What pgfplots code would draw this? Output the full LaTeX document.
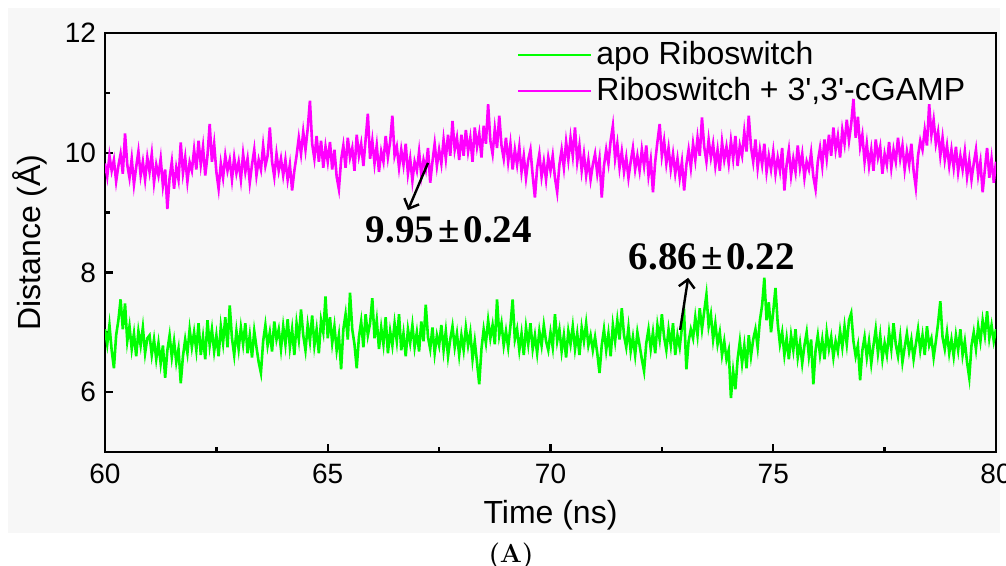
\documentclass[border=0pt]{standalone}
\usepackage{fontspec}
\usepackage{pgfplots}
\usepackage{pgfplotstable}
\pgfplotsset{compat=1.18}
\usetikzlibrary{arrows.meta}
\newfontfamily\arial{Liberation Sans}
\newfontfamily\timesfont{Liberation Serif}
\definecolor{apo}{RGB}{0,255,0}
\definecolor{holo}{RGB}{255,0,255}

% t (ns), apo Riboswitch, Riboswitch + 3',3'-cGAMP
\pgfplotstableread{
t apo holo
60.00 7.05 9.82
60.05 6.80 9.60
60.10 7.12 9.95
60.15 6.70 9.70
60.20 6.40 9.88
60.25 6.95 9.52
60.30 7.20 9.78
60.35 7.55 9.98
60.40 7.05 9.65
60.45 7.48 10.32
60.50 6.85 9.80
60.55 7.10 9.58
60.60 6.72 9.90
60.65 6.98 9.47
60.70 6.60 9.76
60.75 7.02 10.02
60.80 6.78 9.62
60.85 7.08 9.85
60.90 6.65 9.55
60.95 6.90 9.92
61.00 6.95 9.68
61.05 6.62 9.98
61.10 6.88 9.50
61.15 6.55 9.80
61.20 6.82 9.62
61.25 6.48 9.90
61.30 6.78 9.45
61.35 6.24 9.72
61.40 6.70 9.06
61.45 6.95 9.58
61.50 6.58 9.85
61.55 6.85 9.40
61.60 6.50 9.75
61.65 6.72 9.55
61.70 6.15 10.17
61.75 6.60 9.66
61.80 6.88 9.92
61.85 6.65 9.52
61.90 7.05 9.84
61.95 6.75 9.70
62.00 7.00 10.05
62.05 6.70 9.72
62.10 7.15 10.20
62.15 6.62 9.80
62.20 6.92 10.10
62.25 6.55 9.62
62.30 7.20 9.95
62.35 6.78 10.48
62.40 7.05 9.85
62.45 6.68 10.15
62.50 6.95 9.68
62.55 6.60 9.40
62.60 7.10 9.82
62.65 6.82 9.58
62.70 7.25 9.95
62.75 6.75 9.70
62.80 7.45 9.88
62.85 6.90 9.55
62.90 6.62 9.92
62.95 7.02 9.66
63.00 6.72 9.85
63.05 7.08 9.55
63.10 6.80 9.98
63.15 7.15 9.68
63.20 6.65 9.90
63.25 6.95 9.50
63.30 6.58 9.80
63.35 7.02 10.05
63.40 6.75 9.62
63.45 6.50 9.88
63.50 6.32 9.72
63.55 6.85 10.12
63.60 7.12 9.78
63.65 6.78 9.95
63.70 7.00 10.42
63.75 6.68 9.85
63.80 7.18 9.60
63.85 6.88 9.98
63.90 7.05 9.70
63.95 6.72 9.90
64.00 7.10 9.62
64.05 6.80 9.88
64.10 7.22 9.55
64.15 6.75 9.80
64.20 7.05 9.37
64.25 6.62 9.70
64.30 7.15 9.95
64.35 6.88 10.25
64.40 7.38 9.98
64.45 6.95 10.35
64.50 6.70 10.05
64.55 7.12 10.40
64.60 6.85 10.87
64.65 7.28 10.15
64.70 6.78 9.90
64.75 7.05 10.28
64.80 6.65 9.85
64.85 7.20 10.20
64.90 7.00 9.75
64.95 7.60 10.10
65.00 6.90 9.85
65.05 7.25 10.18
65.10 6.82 9.72
65.15 7.10 10.05
65.20 6.70 9.60
65.25 6.95 9.39
65.30 6.38 9.88
65.35 7.05 10.12
65.40 7.30 9.75
65.45 6.88 10.25
65.50 7.66 9.92
65.55 7.05 10.08
65.60 6.80 9.70
65.65 6.40 10.30
65.70 6.92 9.95
65.75 7.18 10.15
65.80 6.75 9.78
65.85 7.30 10.22
65.90 6.95 10.65
65.95 7.15 9.90
66.00 7.57 10.20
66.05 6.90 9.82
66.10 7.20 10.12
66.15 6.72 9.68
66.20 7.08 10.02
66.25 6.80 9.85
66.30 7.25 10.28
66.35 6.65 9.92
66.40 7.02 10.18
66.45 6.78 10.62
66.50 7.15 9.95
66.55 6.85 10.10
66.60 7.30 9.75
66.65 6.70 10.05
66.70 6.98 9.80
66.75 6.60 10.15
66.80 7.05 9.65
66.85 6.82 9.90
66.90 7.12 9.53
66.95 6.75 9.85
67.00 7.00 9.70
67.05 6.68 10.02
67.10 7.18 9.62
67.15 6.85 9.88
67.20 7.46 9.72
67.25 6.92 10.08
67.30 6.72 9.50
67.35 7.08 9.85
67.40 6.65 10.15
67.45 6.95 9.78
67.50 6.78 10.05
67.55 7.12 9.82
67.60 6.70 10.22
67.65 7.02 9.90
67.70 6.60 10.30
67.75 6.88 9.95
67.80 7.10 10.53
67.85 6.75 10.05
67.90 6.98 10.25
67.95 6.62 9.88
68.00 6.95 10.30
68.05 6.70 9.95
68.10 7.08 10.38
68.15 6.78 10.02
68.20 7.00 10.25
68.25 6.55 9.85
68.30 6.85 10.42
68.35 6.50 10.10
68.40 6.13 10.32
68.45 6.72 9.92
68.50 7.05 10.45
68.55 6.82 10.15
68.60 7.20 10.81
68.65 6.90 10.20
68.70 7.12 9.98
68.75 6.80 10.40
68.80 7.55 10.08
68.85 6.95 10.62
68.90 7.15 10.12
68.95 6.78 9.90
69.00 7.02 10.25
69.05 6.75 9.85
69.10 7.10 10.15
69.15 7.55 9.72
69.20 6.88 10.05
69.25 7.05 9.80
69.30 6.70 10.10
69.35 6.98 9.68
69.40 6.62 9.95
69.45 7.08 9.58
69.50 6.80 9.88
69.55 7.15 10.05
69.60 6.72 9.62
69.65 6.95 9.25
69.70 6.65 9.75
69.75 7.02 9.98
69.80 6.78 9.60
69.85 7.12 9.85
69.90 6.85 9.55
69.95 6.70 9.92
70.00 7.00 9.70
70.05 6.75 9.95
70.10 7.30 9.58
70.15 6.85 9.34
70.20 7.05 9.80
70.25 6.68 10.05
70.30 6.95 9.75
70.35 6.58 10.18
70.40 7.02 9.88
70.45 6.80 10.25
70.50 7.10 9.95
70.55 6.72 10.42
70.60 6.98 9.85
70.65 6.62 10.12
70.70 7.08 9.70
70.75 6.85 9.98
70.80 7.15 9.62
70.85 6.78 9.88
70.90 6.95 9.55
70.95 6.70 9.80
71.00 6.92 9.98
71.05 6.65 9.65
71.10 6.32 9.90
71.15 6.78 9.25
71.20 7.05 9.78
71.25 6.70 10.05
71.30 6.98 9.82
71.35 6.60 10.20
71.40 7.12 10.45
71.45 6.85 9.90
71.50 7.20 10.15
71.55 6.88 9.75
71.60 7.40 10.02
71.65 6.95 9.68
71.70 6.75 9.92
71.75 7.08 9.58
71.80 6.68 9.85
71.85 6.92 10.08
71.90 6.62 9.72
71.95 7.00 9.95
72.00 6.78 9.70
72.05 6.55 10.05
72.10 6.35 9.78
72.15 6.82 10.12
72.20 7.05 9.62
72.25 6.72 9.88
72.30 7.00 9.34
72.35 6.65 9.85
72.40 7.12 10.18
72.45 6.88 10.48
72.50 7.30 9.95
72.55 6.92 10.20
72.60 6.70 9.82
72.65 7.05 10.08
72.70 6.78 9.72
72.75 7.15 9.98
72.80 6.62 9.65
72.85 6.95 9.90
72.90 6.75 9.58
72.95 7.08 9.85
73.00 7.30 9.37
73.05 6.38 9.80
73.10 6.85 10.05
73.15 7.05 9.75
73.20 6.90 10.15
73.25 7.25 9.88
73.30 6.95 10.25
73.35 7.40 9.95
73.40 7.05 10.59
73.45 7.35 10.10
73.50 7.63 9.85
73.55 7.10 10.22
73.60 7.30 9.92
73.65 6.88 10.15
73.70 7.15 9.78
73.75 6.80 10.05
73.80 7.00 9.70
73.85 6.62 10.18
73.90 6.85 9.88
73.95 6.55 10.10
74.00 6.70 9.82
74.05 5.90 10.20
74.10 6.35 9.90
74.15 6.05 10.28
74.20 6.55 9.78
74.25 6.85 10.12
74.30 6.48 9.95
74.35 6.78 10.35
74.40 6.40 10.02
74.45 6.95 10.62
74.50 6.60 10.10
74.55 6.88 9.85
74.60 7.05 10.22
74.65 6.75 9.75
74.70 7.20 10.05
74.75 7.45 9.80
74.80 7.91 10.15
74.85 7.20 9.68
74.90 7.50 9.95
74.95 7.00 9.72
75.00 7.35 10.02
75.05 7.74 9.65
75.10 7.15 9.92
75.15 6.80 9.70
75.20 7.00 10.08
75.25 6.62 9.37
75.30 6.90 9.80
75.35 6.55 10.05
75.40 6.95 9.62
75.45 6.70 9.90
75.50 7.05 9.68
75.55 6.58 10.12
75.60 6.82 9.75
75.65 6.48 9.98
75.70 6.78 9.58
75.75 7.00 9.85
75.80 6.60 9.72
75.85 6.88 10.00
75.90 6.13 9.60
75.95 6.70 9.39
76.00 6.95 9.85
76.05 6.62 10.08
76.10 6.88 9.78
76.15 6.55 10.22
76.20 7.00 9.90
76.25 6.72 10.30
76.30 6.92 9.95
76.35 6.58 10.42
76.40 6.85 10.05
76.45 6.68 10.28
76.50 7.02 9.92
76.55 6.75 10.38
76.60 7.10 10.15
76.65 6.80 10.55
76.70 7.20 10.20
76.75 7.32 10.48
76.80 6.85 10.90
76.85 6.60 10.25
76.90 6.78 10.60
76.95 6.20 10.10
77.00 6.70 10.30
77.05 6.92 9.85
77.10 6.58 10.15
77.15 6.85 9.78
77.20 6.48 10.05
77.25 6.78 9.70
77.30 7.05 10.22
77.35 6.65 9.92
77.40 6.95 10.10
77.45 6.55 9.65
77.50 6.82 9.98
77.55 6.62 9.80
77.60 7.00 10.18
77.65 6.72 9.75
77.70 7.15 10.05
77.75 6.80 9.85
77.80 6.60 10.25
77.85 6.92 9.90
77.90 6.50 10.12
77.95 6.75 9.72
78.00 6.98 10.02
78.05 6.68 9.80
78.10 6.88 10.15
78.15 6.55 9.70
78.20 6.80 9.42
78.25 7.05 9.95
78.30 6.70 10.20
78.35 6.95 10.05
78.40 6.62 10.38
78.45 7.10 10.12
78.50 6.78 10.81
78.55 6.90 10.30
78.60 6.58 10.55
78.65 6.85 10.15
78.70 7.15 10.35
78.75 7.52 9.95
78.80 6.92 10.25
78.85 6.72 9.88
78.90 7.00 10.12
78.95 6.65 9.78
79.00 6.88 10.05
79.05 6.60 9.75
79.10 6.95 10.10
79.15 6.70 9.68
79.20 7.05 9.95
79.25 6.62 9.72
79.30 6.85 10.02
79.35 6.50 9.60
79.40 6.24 9.88
79.45 6.78 9.55
79.50 7.00 9.82
79.55 6.72 10.05
79.60 7.10 9.62
79.65 6.85 9.85
79.70 7.20 9.34
79.75 6.95 9.72
79.80 7.35 10.08
79.85 6.90 9.58
79.90 7.12 9.90
79.95 6.85 9.50
80.00 7.05 9.85
}\datatable

\begin{document}
\begin{tikzpicture}
% picture frame and light grey panel (1 px = 0.5 pt, axis origin at its lower left corner)
\path[use as bounding box] (-52.5pt,-57pt) rectangle (450.5pt,226pt);
\fill[black!3] (-48.5pt,-40.5pt) rectangle (447.5pt,222pt);
\begin{axis}[
  scale only axis,
  width=445.5pt, height=209.5pt,
  xmin=60, xmax=80, ymin=5, ymax=12,
  xtick={60,65,70,75,80}, ytick={6,8,10,12},
  minor xtick={62.5,67.5,72.5,77.5}, minor ytick={7,9,11},
  tick align=inside, xtick pos=bottom, ytick pos=left,
  major tick length=4pt, minor tick length=2.5pt,
  axis line style={line width=1.4pt},
  every tick/.style={black, line width=1.2pt},
  /pgf/number format/assume math mode=true,
  tick label style={font=\arial\fontsize{14}{16}\selectfont},
  xticklabel style={anchor=center, yshift=-11pt},
  yticklabel style={xshift=-1pt},
  xlabel={Time (ns)}, ylabel={Distance (Å)},
  label style={font=\arial\fontsize{16}{18}\selectfont},
  xlabel style={at={(axis description cs:0.5,0)}, anchor=center, yshift=-31.5pt},
  ylabel style={at={([xshift=-37.5pt]axis description cs:0,0.5)}, anchor=center},
  legend style={draw=none, fill=none, at={(axis description cs:0.4624,0.99)}, anchor=north west,
    font=\arial\fontsize{16}{18}\selectfont, inner sep=0pt, row sep=1pt,
    cells={anchor=west}},
  legend image code/.code={\draw[#1, line width=1pt] (0pt,0pt) -- (36.5pt,0pt);},
]
\addplot[apo, line width=1.3pt] table[x=t, y=apo] {\datatable};
\addlegendentry{apo Riboswitch}
\addplot[holo, line width=1.3pt] table[x=t, y=holo] {\datatable};
\addlegendentry{Riboswitch + 3',3'-cGAMP}
\draw[-{Straight Barb[length=4pt,width=8pt,line width=1.2pt]}, line width=1.2pt] (axis cs:67.25,9.83) -- (axis cs:66.80,9.04);
\draw[-{Straight Barb[length=4pt,width=8pt,line width=1.2pt]}, line width=1.2pt] (axis cs:72.91,7.04) -- (axis cs:73.09,7.91);
\node[font=\timesfont\bfseries\fontsize{19.5}{21}\selectfont] at (axis cs:67.72,8.71) {9.95\kern2pt±\kern2pt0.24};
\node[font=\timesfont\bfseries\fontsize{19.5}{21}\selectfont] at (axis cs:73.62,8.26) {6.86\kern2pt±\kern2pt0.22};
\end{axis}
\node[font=\bfseries\fontsize{13}{15}\selectfont] at (203pt,-52pt) {(A)};
\end{tikzpicture}
\end{document}
